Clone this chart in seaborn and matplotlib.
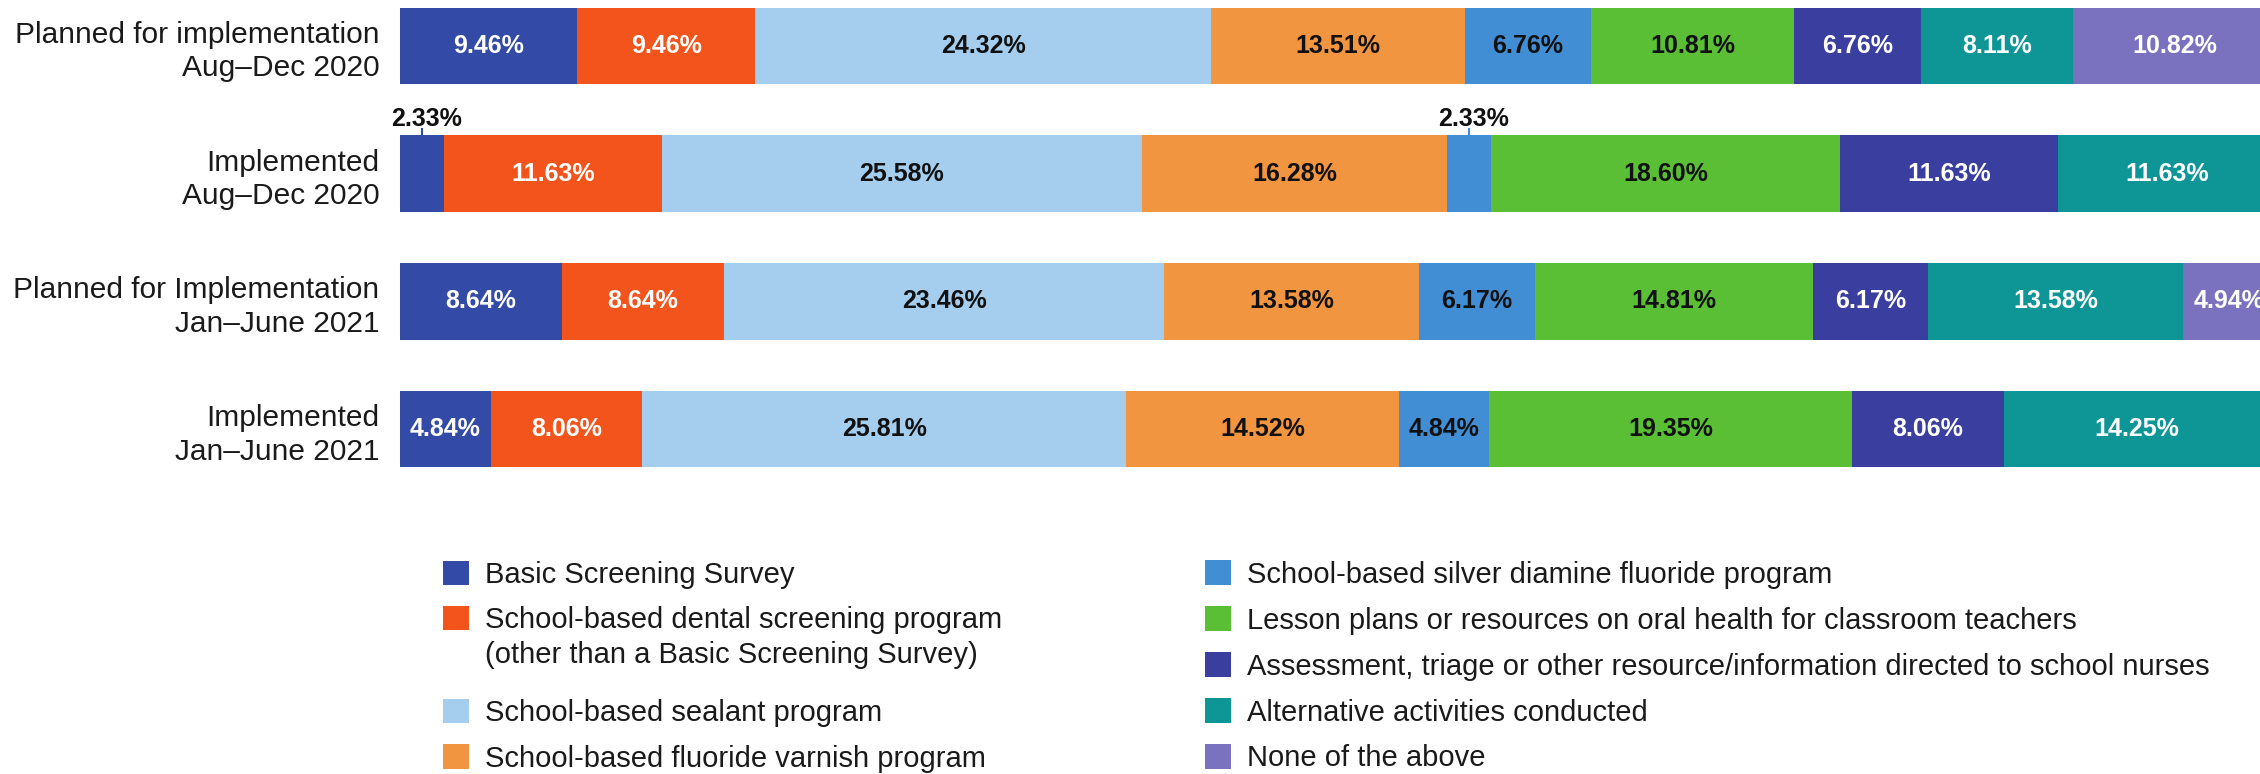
import matplotlib
matplotlib.use("Agg")
import matplotlib.pyplot as plt
import seaborn as sns
import numpy as np
from matplotlib.patches import Patch

# ---------------- data ----------------
rows = [
    "Planned for implementation\nAug\u2013Dec 2020",
    "Implemented\nAug\u2013Dec 2020",
    "Planned for Implementation\nJan\u2013June 2021",
    "Implemented\nJan\u2013June 2021",
]
categories = [
    "Basic Screening Survey",
    "School-based dental screening program\n(other than a Basic Screening Survey)",
    "School-based sealant program",
    "School-based fluoride varnish program",
    "School-based silver diamine fluoride program",
    "Lesson plans or resources on oral health for classroom teachers",
    "Assessment, triage or other resource/information directed to school nurses",
    "Alternative activities conducted",
    "None of the above",
]
basic_screening = [9.46, 2.33, 8.64, 4.84]
dental_screening = [9.46, 11.63, 8.64, 8.06]
sealant = [24.32, 25.58, 23.46, 25.81]
fluoride_varnish = [13.51, 16.28, 13.58, 14.52]
silver_diamine = [6.76, 2.33, 6.17, 4.84]
lesson_plans = [10.81, 18.60, 14.81, 19.35]
school_nurses = [6.76, 11.63, 6.17, 8.06]
alternative = [8.11, 11.63, 13.58, 14.25]
none_above = [10.82, 0.0, 4.94, 0.0]

series = [basic_screening, dental_screening, sealant, fluoride_varnish,
          silver_diamine, lesson_plans, school_nurses, alternative, none_above]
colors = ["#334BA6", "#F2541C", "#A5CEEE", "#F29541", "#418ED4",
          "#5BBF35", "#3A3E9E", "#0E9696", "#7A72BE"]
label_colors = ["white", "white", "#111111", "#111111", "#111111",
                "#111111", "white", "white", "white"]

# ---------------- style ----------------
sns.set_theme(style="white")
plt.rcParams["font.family"] = ["Liberation Sans", "DejaVu Sans"]

W, H = 2260, 774
fig = plt.figure(figsize=(W / 100, H / 100), dpi=100)

pitch = 127.7
top_center = 46.0
ax_top_val = -top_center / pitch
ax_bottom_val = 3.5
ax_h_px = (ax_bottom_val - ax_top_val) * pitch
ax = fig.add_axes([400 / W, (H - ax_h_px) / H, 1876 / W, ax_h_px / H])

vals = np.array(series)  # shape (9, 4)
cum = np.cumsum(vals, axis=0)

# stacked bars: draw largest cumulative first
for i in reversed(range(len(series))):
    sns.barplot(x=cum[i], y=rows, orient="h", color=colors[i], saturation=1,
                width=0.6, linewidth=0, edgecolor="none", ax=ax)

ax.set_xlim(0, 100)
ax.set_ylim(ax_bottom_val, ax_top_val)
ax.set_xlabel("")
ax.set_ylabel("")
ax.set_xticks([])
for s in ax.spines.values():
    s.set_visible(False)
ax.tick_params(axis="y", length=0, pad=15, labelsize=21.5, labelcolor="#1a1a1a")
for t in ax.get_yticklabels():
    t.set_linespacing(1.25)
    t.set_ha("right")

# value labels
for i in range(len(series)):
    for j in range(len(rows)):
        v = vals[i, j]
        if v <= 0:
            continue
        start = cum[i, j] - v
        xc = start + v / 2
        txt = f"{v:.2f}%"
        if v >= 3:
            ax.text(xc, j, txt, ha="center", va="center", fontsize=18,
                    fontweight="bold", color=label_colors[i])
        else:
            bar_top = j - 0.3
            ax.plot([xc, xc], [bar_top, bar_top - 7 / pitch], color=colors[i],
                    lw=1.5, solid_capstyle="butt")
            ax.text(xc + 0.25, bar_top - 9 / pitch, txt, ha="center", va="baseline",
                    fontsize=18, fontweight="bold", color="#111111")

# legends
handles = [Patch(facecolor=c, edgecolor="none") for c in colors]
common = dict(frameon=False, fontsize=21, handlelength=0.9, handleheight=0.9,
              handletextpad=0.55, labelspacing=0.61, borderpad=0, borderaxespad=0,
              loc="upper left", labelcolor="#1a1a1a")
leg1a = fig.legend(handles[:2], categories[:2],
                   bbox_to_anchor=(443 / W, (H - 560.5) / H), **common)
for t in leg1a.get_texts():
    t.set_linespacing(1.3)
# align the handle of the two-line entry with its first line
h2 = leg1a.legend_handles[1]
h2.set_y(h2.get_y() + 14.8)
leg1b = fig.legend(handles[2:4], categories[2:4],
                   bbox_to_anchor=(443 / W, (H - 698.5) / H), **common)
leg2 = fig.legend(handles[4:], categories[4:],
                  bbox_to_anchor=(1205 / W, (H - 560.5) / H), **common)

fig.savefig("out.png", dpi=100, facecolor="white")
